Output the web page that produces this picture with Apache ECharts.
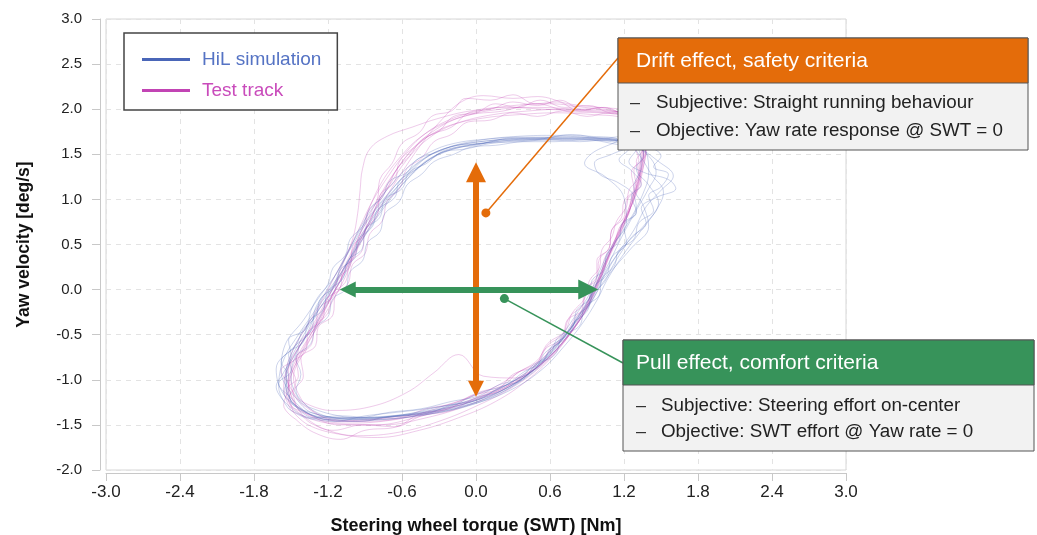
<!DOCTYPE html>
<html><head><meta charset="utf-8">
<script src="https://cdn.jsdelivr.net/npm/echarts@6/dist/echarts.min.js"></script>
<style>html,body{margin:0;padding:0;background:#fff}#c{width:1037px;height:535px}</style>
</head><body><div id="c"></div>
<script>
// ---- Data ----
const xTickLabels = ['-3.0','-2.4','-1.8','-1.2','-0.6','0.0','0.6','1.2','1.8','2.4','3.0'];
const yTickLabels = ['-2.0','-1.5','-1.0','-0.5','0.0','0.5','1.0','1.5','2.0','2.5','3.0'];

const hil1 = [[-1.48,-1.28],[-1.55,-1.02],[-1.50,-0.72],[-1.38,-0.42],[-1.22,-0.12],[-1.12,0.10],[-1.02,0.35],[-0.92,0.60],[-0.80,0.86],[-0.66,1.10],[-0.52,1.32],[-0.36,1.50],[-0.15,1.60],[0.10,1.65],[0.40,1.68],[0.70,1.68],[1.00,1.67],[1.25,1.64],[1.38,1.52],[1.40,1.30],[1.35,1.05],[1.25,0.78],[1.12,0.50],[1.02,0.22],[0.95,-0.02],[0.84,-0.28],[0.70,-0.55],[0.52,-0.82],[0.30,-1.05],[0.02,-1.22],[-0.30,-1.33],[-0.65,-1.40],[-1.00,-1.43],[-1.30,-1.40],[-1.48,-1.28]];
const hil2 = [[-1.42,-1.25],[-1.50,-0.98],[-1.44,-0.66],[-1.30,-0.38],[-1.18,-0.08],[-1.06,0.18],[-0.98,0.42],[-0.86,0.68],[-0.74,0.92],[-0.60,1.16],[-0.44,1.38],[-0.26,1.52],[-0.05,1.60],[0.25,1.64],[0.55,1.66],[0.85,1.66],[1.10,1.64],[1.30,1.58],[1.48,1.42],[1.60,1.26],[1.50,1.10],[1.38,0.92],[1.28,0.66],[1.15,0.40],[1.04,0.15],[0.96,-0.08],[0.82,-0.34],[0.66,-0.60],[0.46,-0.86],[0.22,-1.08],[-0.08,-1.24],[-0.42,-1.35],[-0.80,-1.41],[-1.15,-1.42],[-1.42,-1.25]];
const hil3 = [[-1.52,-1.32],[-1.60,-1.08],[-1.56,-0.78],[-1.44,-0.50],[-1.30,-0.22],[-1.20,0.02],[-1.10,0.26],[-1.00,0.52],[-0.88,0.78],[-0.74,1.02],[-0.58,1.26],[-0.42,1.45],[-0.22,1.58],[0.05,1.66],[0.35,1.70],[0.65,1.71],[0.92,1.70],[1.15,1.66],[0.95,1.52],[0.88,1.40],[1.05,1.25],[1.20,1.02],[1.22,0.75],[1.10,0.48],[1.00,0.20],[0.92,-0.05],[0.80,-0.30],[0.66,-0.58],[0.48,-0.86],[0.26,-1.10],[-0.04,-1.28],[-0.38,-1.38],[-0.74,-1.44],[-1.10,-1.46],[-1.38,-1.42],[-1.52,-1.32]];
const hil4 = [[-1.46,-1.20],[-1.58,-0.92],[-1.55,-0.62],[-1.40,-0.34],[-1.26,-0.06],[-1.14,0.16],[-1.04,0.40],[-0.95,0.66],[-0.84,0.90],[-0.70,1.14],[-0.55,1.36],[-0.38,1.52],[-0.18,1.62],[0.10,1.67],[0.40,1.69],[0.70,1.69],[1.00,1.68],[1.22,1.64],[1.34,1.46],[1.42,1.28],[1.52,1.08],[1.46,0.88],[1.32,0.62],[1.18,0.36],[1.06,0.10],[0.98,-0.12],[0.86,-0.38],[0.72,-0.62],[0.54,-0.88],[0.30,-1.10],[0.00,-1.26],[-0.34,-1.36],[-0.70,-1.41],[-1.05,-1.42],[-1.34,-1.36],[-1.46,-1.20]];
const hil5 = [[-1.50,-1.24],[-1.54,-0.96],[-1.46,-0.70],[-1.36,-0.46],[-1.28,-0.20],[-1.16,0.04],[-1.08,0.30],[-0.98,0.54],[-0.86,0.80],[-0.72,1.04],[-0.60,1.24],[-0.46,1.42],[-0.28,1.55],[-0.02,1.63],[0.30,1.67],[0.60,1.68],[0.90,1.68],[1.18,1.66],[1.32,1.55],[1.34,1.36],[1.28,1.14],[1.36,0.92],[1.40,0.70],[1.26,0.46],[1.12,0.24],[1.00,0.02],[0.90,-0.22],[0.76,-0.48],[0.60,-0.74],[0.40,-0.98],[0.14,-1.18],[-0.18,-1.31],[-0.55,-1.39],[-0.92,-1.43],[-1.25,-1.42],[-1.50,-1.24]];
const hil6 = [[-1.44,-1.32],[-1.54,-1.10],[-1.52,-0.84],[-1.42,-0.56],[-1.30,-0.28],[-1.18,-0.02],[-1.08,0.22],[-0.96,0.48],[-0.84,0.74],[-0.72,0.98],[-0.56,1.22],[-0.40,1.42],[-0.20,1.56],[0.08,1.63],[0.38,1.66],[0.68,1.67],[0.98,1.66],[1.24,1.62],[1.40,1.48],[1.46,1.30],[1.40,1.12],[1.30,0.88],[1.18,0.58],[1.08,0.30],[0.98,0.06],[0.88,-0.18],[0.76,-0.44],[0.60,-0.70],[0.42,-0.94],[0.18,-1.14],[-0.12,-1.30],[-0.48,-1.40],[-0.86,-1.44],[-1.20,-1.44],[-1.44,-1.32]];
const hil7 = [[-1.40,-1.34],[-1.56,-1.16],[-1.62,-0.88],[-1.48,-0.64],[-1.34,-0.46],[-1.30,-0.20],[-1.16,0.06],[-1.04,0.30],[-0.94,0.58],[-0.82,0.84],[-0.68,1.08],[-0.50,1.32],[-0.34,1.48],[-0.12,1.58],[0.16,1.64],[0.46,1.67],[0.76,1.67],[1.04,1.66],[1.28,1.62],[1.36,1.50],[1.30,1.34],[1.40,1.16],[1.48,0.96],[1.38,0.74],[1.20,0.48],[1.06,0.22],[0.97,-0.02],[0.86,-0.26],[0.72,-0.52],[0.56,-0.78],[0.34,-1.02],[0.06,-1.20],[-0.26,-1.32],[-0.62,-1.40],[-1.00,-1.44],[-1.40,-1.34]];
const hil8 = [[-1.46,-1.30],[-1.56,-1.14],[-1.52,-0.96],[-1.58,-0.80],[-1.46,-0.62],[-1.40,-0.44],[-1.30,-0.30],[-1.26,-0.10],[-1.14,0.04],[-1.10,0.22],[-0.98,0.36],[-0.96,0.54],[-0.84,0.70],[-0.80,0.88],[-0.66,1.02],[-0.62,1.20],[-0.48,1.34],[-0.36,1.46],[-0.22,1.56],[0.00,1.60],[0.20,1.66],[0.45,1.66],[0.70,1.70],[0.95,1.68],[1.18,1.64],[1.30,1.56],[1.24,1.42],[1.36,1.30],[1.56,1.22],[1.62,1.12],[1.46,1.02],[1.34,0.90],[1.38,0.74],[1.26,0.58],[1.18,0.42],[1.10,0.24],[1.04,0.08],[0.94,-0.06],[0.90,-0.24],[0.78,-0.38],[0.70,-0.56],[0.56,-0.70],[0.48,-0.88],[0.32,-1.00],[0.16,-1.12],[-0.06,-1.24],[-0.30,-1.30],[-0.56,-1.38],[-0.84,-1.42],[-1.10,-1.40],[-1.32,-1.42],[-1.46,-1.30]];
const hil9 = [[-1.38,-1.36],[-1.50,-1.20],[-1.60,-1.04],[-1.50,-0.90],[-1.52,-0.72],[-1.40,-0.58],[-1.36,-0.36],[-1.24,-0.22],[-1.20,-0.02],[-1.08,0.12],[-1.04,0.32],[-0.92,0.46],[-0.90,0.66],[-0.78,0.80],[-0.74,1.00],[-0.60,1.12],[-0.54,1.30],[-0.40,1.40],[-0.28,1.52],[-0.08,1.56],[0.12,1.62],[0.36,1.64],[0.60,1.66],[0.84,1.64],[1.06,1.66],[1.26,1.60],[1.10,1.50],[0.96,1.40],[1.00,1.28],[1.16,1.18],[1.28,1.04],[1.30,0.86],[1.20,0.70],[1.22,0.52],[1.10,0.36],[1.06,0.16],[0.96,0.04],[0.92,-0.16],[0.82,-0.30],[0.76,-0.48],[0.62,-0.62],[0.54,-0.80],[0.38,-0.92],[0.24,-1.06],[0.04,-1.14],[-0.16,-1.26],[-0.40,-1.32],[-0.64,-1.36],[-0.90,-1.40],[-1.14,-1.46],[-1.38,-1.36]];
const hil10 = [[-1.54,-1.26],[-1.62,-1.08],[-1.56,-0.92],[-1.50,-0.74],[-1.52,-0.56],[-1.38,-0.44],[-1.34,-0.24],[-1.28,-0.08],[-1.20,0.06],[-1.16,0.24],[-1.06,0.38],[-1.02,0.56],[-0.92,0.70],[-0.86,0.90],[-0.76,1.02],[-0.70,1.20],[-0.56,1.30],[-0.48,1.44],[-0.32,1.52],[-0.16,1.60],[0.06,1.62],[0.28,1.68],[0.52,1.68],[0.78,1.72],[1.02,1.68],[1.22,1.70],[1.38,1.60],[1.50,1.48],[1.44,1.36],[1.56,1.28],[1.50,1.14],[1.40,1.04],[1.44,0.88],[1.32,0.74],[1.28,0.56],[1.16,0.44],[1.12,0.26],[1.02,0.12],[1.00,-0.06],[0.88,-0.20],[0.84,-0.40],[0.70,-0.52],[0.64,-0.72],[0.48,-0.84],[0.38,-1.00],[0.20,-1.08],[0.02,-1.22],[-0.20,-1.28],[-0.42,-1.38],[-0.68,-1.40],[-0.94,-1.46],[-1.20,-1.44],[-1.40,-1.40],[-1.54,-1.26]];
const hil11 = [[-1.36,-1.30],[-1.46,-1.12],[-1.42,-0.94],[-1.46,-0.76],[-1.34,-0.60],[-1.30,-0.42],[-1.20,-0.30],[-1.16,-0.10],[-1.06,0.00],[-1.02,0.20],[-0.92,0.32],[-0.88,0.52],[-0.78,0.64],[-0.74,0.84],[-0.62,0.98],[-0.56,1.16],[-0.44,1.28],[-0.34,1.42],[-0.18,1.50],[-0.04,1.58],[0.16,1.60],[0.40,1.64],[0.64,1.64],[0.88,1.66],[1.10,1.62],[1.24,1.56],[1.16,1.44],[1.26,1.32],[1.34,1.16],[1.26,1.04],[1.30,0.86],[1.18,0.72],[1.16,0.54],[1.06,0.40],[1.04,0.22],[0.94,0.10],[0.92,-0.10],[0.82,-0.22],[0.78,-0.42],[0.66,-0.54],[0.60,-0.72],[0.46,-0.84],[0.36,-0.98],[0.18,-1.06],[0.02,-1.18],[-0.20,-1.24],[-0.44,-1.32],[-0.70,-1.36],[-0.96,-1.42],[-1.18,-1.38],[-1.36,-1.30]];

const track1 = [[-1.45,-1.30],[-1.52,-1.05],[-1.45,-0.75],[-1.32,-0.45],[-1.20,-0.15],[-1.10,0.10],[-1.00,0.38],[-0.90,0.65],[-0.80,0.95],[-0.68,1.25],[-0.52,1.55],[-0.32,1.78],[-0.10,1.92],[0.20,2.00],[0.50,2.02],[0.80,2.00],[1.10,1.98],[1.30,1.92],[1.36,1.70],[1.34,1.40],[1.30,1.10],[1.22,0.80],[1.12,0.50],[1.03,0.22],[0.97,0.00],[0.88,-0.25],[0.74,-0.52],[0.55,-0.80],[0.30,-1.02],[0.00,-1.20],[-0.35,-1.35],[-0.70,-1.45],[-1.05,-1.48],[-1.32,-1.42],[-1.45,-1.30]];
const track2 = [[-1.40,-1.25],[-1.48,-0.98],[-1.40,-0.70],[-1.28,-0.40],[-1.16,-0.12],[-1.06,0.14],[-0.98,0.40],[-0.86,0.70],[-0.74,1.00],[-0.60,1.30],[-0.45,1.60],[-0.28,1.88],[-0.12,2.08],[0.06,2.15],[0.30,2.12],[0.50,2.14],[0.75,2.06],[1.00,2.02],[1.22,1.98],[1.34,1.82],[1.36,1.55],[1.32,1.25],[1.26,0.95],[1.18,0.65],[1.08,0.36],[1.00,0.08],[0.92,-0.16],[0.80,-0.42],[0.64,-0.68],[0.44,-0.92],[0.18,-1.12],[-0.14,-1.28],[-0.50,-1.40],[-0.88,-1.46],[-1.22,-1.42],[-1.40,-1.25]];
const track3 = [[-1.50,-1.34],[-1.56,-1.08],[-1.50,-0.80],[-1.38,-0.52],[-1.26,-0.24],[-1.16,0.02],[-1.08,0.28],[-1.00,0.56],[-0.96,0.84],[-0.94,1.10],[-0.92,1.34],[-0.86,1.56],[-0.72,1.70],[-0.52,1.80],[-0.30,1.90],[-0.05,1.98],[0.25,2.02],[0.55,2.00],[0.85,1.98],[1.10,1.95],[1.30,1.88],[1.38,1.66],[1.36,1.38],[1.30,1.06],[1.20,0.76],[1.10,0.46],[1.02,0.18],[0.94,-0.06],[0.84,-0.32],[0.70,-0.60],[0.50,-0.86],[0.24,-1.08],[-0.08,-1.26],[-0.44,-1.40],[-0.82,-1.50],[-1.20,-1.48],[-1.50,-1.34]];
const track4 = [[-1.48,-1.36],[-1.52,-1.10],[-1.46,-0.82],[-1.34,-0.50],[-1.22,-0.20],[-1.12,0.06],[-1.02,0.32],[-0.92,0.60],[-0.82,0.88],[-0.70,1.16],[-0.56,1.44],[-0.40,1.66],[-0.20,1.82],[0.05,1.90],[0.35,1.94],[0.65,1.96],[0.95,1.94],[1.20,1.90],[1.32,1.76],[1.34,1.50],[1.30,1.20],[1.24,0.90],[1.14,0.60],[1.06,0.32],[0.98,0.06],[0.90,-0.20],[0.78,-0.46],[0.62,-0.74],[0.42,-1.00],[0.16,-1.24],[-0.14,-1.42],[-0.46,-1.56],[-0.80,-1.64],[-1.12,-1.60],[-1.36,-1.50],[-1.48,-1.36]];
const track5 = [[-1.44,-1.22],[-1.54,-0.94],[-1.48,-0.66],[-1.36,-0.38],[-1.24,-0.10],[-1.14,0.16],[-1.04,0.42],[-0.94,0.70],[-0.84,0.98],[-0.72,1.24],[-0.58,1.50],[-0.42,1.72],[-0.22,1.88],[0.02,1.98],[0.30,2.04],[0.60,2.06],[0.88,2.02],[1.12,1.98],[1.30,1.90],[1.38,1.70],[1.36,1.44],[1.30,1.14],[1.22,0.84],[1.14,0.56],[1.04,0.28],[0.96,0.02],[0.86,-0.24],[0.72,-0.50],[0.54,-0.76],[0.32,-0.98],[0.06,-0.96],[-0.14,-0.72],[-0.34,-0.92],[-0.56,-1.14],[-0.86,-1.30],[-1.18,-1.34],[-1.44,-1.22]];
const track6 = [[-1.46,-1.28],[-1.50,-1.00],[-1.42,-0.72],[-1.30,-0.44],[-1.20,-0.16],[-1.10,0.10],[-1.02,0.36],[-0.94,0.62],[-0.86,0.92],[-0.76,1.20],[-0.62,1.46],[-0.46,1.68],[-0.26,1.84],[-0.04,1.94],[0.22,1.98],[0.48,2.06],[0.74,1.98],[1.00,1.96],[1.24,1.94],[1.36,1.80],[1.38,1.56],[1.34,1.28],[1.28,1.00],[1.18,0.70],[1.08,0.42],[1.00,0.14],[0.92,-0.10],[0.82,-0.36],[0.68,-0.62],[0.48,-0.88],[0.24,-1.10],[-0.06,-1.28],[-0.40,-1.42],[-0.76,-1.50],[-1.12,-1.50],[-1.46,-1.28]];
const track7 = [[-1.40,-1.40],[-1.50,-1.18],[-1.52,-0.90],[-1.42,-0.60],[-1.28,-0.32],[-1.18,-0.04],[-1.08,0.22],[-0.98,0.50],[-0.88,0.78],[-0.78,1.04],[-0.66,1.30],[-0.52,1.54],[-0.34,1.74],[-0.12,1.86],[0.14,1.94],[0.42,1.98],[0.70,2.00],[0.98,1.98],[1.22,1.96],[1.34,1.84],[1.36,1.60],[1.34,1.32],[1.28,1.02],[1.20,0.72],[1.10,0.44],[1.02,0.16],[0.94,-0.08],[0.84,-0.34],[0.70,-0.60],[0.52,-0.86],[0.30,-1.08],[0.02,-1.28],[-0.30,-1.46],[-0.62,-1.58],[-0.96,-1.62],[-1.24,-1.54],[-1.40,-1.40]];
const track8 = [[-1.42,-1.38],[-1.52,-1.22],[-1.46,-1.02],[-1.50,-0.84],[-1.38,-0.68],[-1.36,-0.48],[-1.24,-0.32],[-1.22,-0.12],[-1.10,0.02],[-1.08,0.22],[-0.98,0.38],[-0.94,0.58],[-0.86,0.74],[-0.80,0.96],[-0.72,1.12],[-0.64,1.34],[-0.54,1.48],[-0.44,1.66],[-0.30,1.76],[-0.18,1.92],[0.00,1.96],[0.16,2.06],[0.34,2.02],[0.52,2.10],[0.72,2.02],[0.92,2.04],[1.10,1.96],[1.26,1.98],[1.36,1.86],[1.34,1.70],[1.38,1.52],[1.32,1.36],[1.34,1.18],[1.26,1.02],[1.24,0.84],[1.16,0.68],[1.12,0.50],[1.04,0.34],[1.02,0.16],[0.94,0.02],[0.90,-0.18],[0.80,-0.32],[0.74,-0.52],[0.60,-0.66],[0.52,-0.84],[0.36,-0.96],[0.20,-1.12],[0.00,-1.20],[-0.20,-1.34],[-0.44,-1.40],[-0.66,-1.52],[-0.92,-1.50],[-1.16,-1.56],[-1.34,-1.48],[-1.42,-1.38]];
const track9 = [[-1.50,-1.30],[-1.54,-1.12],[-1.44,-0.96],[-1.46,-0.76],[-1.34,-0.62],[-1.30,-0.40],[-1.20,-0.26],[-1.16,-0.04],[-1.06,0.08],[-1.02,0.30],[-0.92,0.44],[-0.90,0.66],[-0.80,0.82],[-0.78,1.04],[-0.66,1.20],[-0.62,1.42],[-0.50,1.58],[-0.36,1.72],[-0.20,1.80],[-0.06,1.96],[0.12,2.00],[0.30,2.08],[0.50,2.04],[0.68,2.10],[0.86,2.00],[1.04,2.02],[1.20,1.94],[1.32,1.90],[1.30,1.74],[1.36,1.58],[1.30,1.42],[1.32,1.26],[1.24,1.10],[1.22,0.92],[1.14,0.76],[1.10,0.58],[1.02,0.44],[1.00,0.24],[0.92,0.10],[0.88,-0.10],[0.78,-0.26],[0.72,-0.46],[0.58,-0.60],[0.50,-0.78],[0.34,-0.92],[0.18,-1.06],[-0.02,-1.18],[-0.24,-1.28],[-0.48,-1.38],[-0.72,-1.42],[-0.98,-1.46],[-1.22,-1.44],[-1.50,-1.30]];
const track10 = [[-1.46,-1.44],[-1.56,-1.28],[-1.52,-1.08],[-1.58,-0.90],[-1.46,-0.76],[-1.42,-0.56],[-1.30,-0.42],[-1.28,-0.22],[-1.16,-0.08],[-1.12,0.12],[-1.02,0.26],[-1.00,0.48],[-0.90,0.62],[-0.88,0.84],[-0.80,1.00],[-0.78,1.22],[-0.68,1.40],[-0.60,1.62],[-0.46,1.74],[-0.36,1.92],[-0.20,1.98],[-0.08,2.12],[0.12,2.10],[0.30,2.16],[0.48,2.06],[0.66,2.08],[0.84,1.98],[1.02,2.02],[1.20,1.96],[1.34,1.96],[1.38,1.82],[1.32,1.66],[1.36,1.48],[1.28,1.32],[1.30,1.14],[1.22,0.98],[1.20,0.80],[1.10,0.66],[1.08,0.46],[0.98,0.32],[0.98,0.12],[0.88,0.00],[0.86,-0.22],[0.74,-0.34],[0.70,-0.54],[0.56,-0.66],[0.48,-0.84],[0.30,-0.94],[0.18,-1.10],[-0.04,-1.18],[-0.22,-1.32],[-0.46,-1.38],[-0.64,-1.52],[-0.90,-1.56],[-1.10,-1.66],[-1.32,-1.58],[-1.46,-1.44]];
const track11 = [[-1.38,-1.30],[-1.48,-1.14],[-1.40,-0.96],[-1.42,-0.76],[-1.30,-0.62],[-1.28,-0.42],[-1.16,-0.28],[-1.14,-0.06],[-1.04,0.06],[-1.00,0.28],[-0.90,0.40],[-0.86,0.62],[-0.76,0.76],[-0.72,0.98],[-0.62,1.12],[-0.56,1.34],[-0.44,1.46],[-0.34,1.64],[-0.20,1.72],[-0.06,1.86],[0.12,1.88],[0.30,1.96],[0.50,1.92],[0.70,1.98],[0.90,1.92],[1.08,1.96],[1.24,1.90],[1.32,1.78],[1.28,1.62],[1.32,1.44],[1.26,1.30],[1.28,1.12],[1.20,0.98],[1.18,0.80],[1.10,0.66],[1.08,0.46],[1.00,0.34],[0.98,0.14],[0.90,0.02],[0.86,-0.18],[0.76,-0.30],[0.70,-0.50],[0.58,-0.62],[0.50,-0.80],[0.34,-0.92],[0.22,-1.06],[0.02,-1.14],[-0.18,-1.26],[-0.40,-1.32],[-0.62,-1.42],[-0.88,-1.44],[-1.12,-1.46],[-1.38,-1.30]];

// annotation geometry in data units
const driftArrow = [[0, -1.10], [0, 1.30]];
const pullArrow = [[-1.04, 0], [0.91, 0]];
const driftDot = [0.08, 0.85];
const pullDot = [0.23, -0.10];

const hilRuns = [hil1, hil2, hil3, hil4, hil5, hil6, hil7, hil8, hil9, hil10, hil11];
const trackRuns = [track1, track2, track3, track4, track5, track6, track7, track8, track9, track10, track11];

const BLUE = '#4a66b8', MAG = '#c244b4', ORANGE = '#e46c0a', GREEN = '#37935a';
const chart = echarts.init(document.getElementById('c'), null, {renderer: 'canvas'});

const series = [];
trackRuns.forEach(d => series.push({name: 'Test track', type: 'line', data: d, smooth: 0.4, showSymbol: false, symbol: 'none',
  lineStyle: {color: MAG, width: 0.7, opacity: 0.4}, itemStyle: {color: MAG}, z: 2, silent: true}));
hilRuns.forEach(d => series.push({name: 'HiL simulation', type: 'line', data: d, smooth: 0.4, showSymbol: false, symbol: 'none',
  lineStyle: {color: BLUE, width: 0.7, opacity: 0.4}, itemStyle: {color: BLUE}, z: 2, silent: true}));
series.push({type: 'lines', coordinateSystem: 'cartesian2d', z: 5, silent: true,
  symbol: ['triangle', 'triangle'], symbolSize: [16, 20],
  data: [{coords: driftArrow, lineStyle: {color: ORANGE}}, {coords: pullArrow, lineStyle: {color: GREEN}}],
  lineStyle: {width: 6, opacity: 1}});

const fontReg = '"Liberation Sans", Arial, sans-serif';

chart.setOption({
  animation: false,
  grid: {left: 106, right: 191, top: 19, bottom: 65, show: true, borderColor: '#d6d6d6', borderWidth: 1,
    containLabel: false, outerBoundsMode: 'none'},
  legend: {
    left: 124, top: 33, orient: 'vertical', padding: [17, 16, 10, 18], itemGap: 12,
    itemWidth: 48, itemHeight: 3, icon: 'rect', backgroundColor: '#fff', borderColor: '#444', borderWidth: 1.5,
    textStyle: {fontSize: 19, fontFamily: fontReg, padding: [0, 0, 0, 7]},
    data: [
      {name: 'HiL simulation', itemStyle: {color: BLUE, opacity: 1}, textStyle: {color: '#5573c4'}},
      {name: 'Test track', itemStyle: {color: MAG, opacity: 1}, textStyle: {color: '#c94bbb'}}
    ]
  },
  xAxis: {
    type: 'value', min: -3, max: 3, interval: 0.6, offset: 3,
    axisLine: {show: true, onZero: false, lineStyle: {color: '#c8c8c8'}},
    axisTick: {show: true, length: 8, lineStyle: {color: '#c8c8c8'}},
    axisLabel: {fontSize: 17, color: '#222', margin: 11, fontFamily: fontReg,
      formatter: (v, i) => xTickLabels[i]},
    splitLine: {show: true, lineStyle: {type: [5, 5], color: '#e3e3e3'}},
    name: 'Steering wheel torque (SWT) [Nm]', nameLocation: 'middle', nameGap: 44,
    nameTextStyle: {fontWeight: 'bold', fontSize: 18, fontFamily: fontReg, color: '#111'}
  },
  yAxis: {
    type: 'value', min: -2, max: 3, interval: 0.5, offset: 6,
    axisLine: {show: true, onZero: false, lineStyle: {color: '#c8c8c8'}},
    axisTick: {show: true, length: 8, lineStyle: {color: '#c8c8c8'}},
    axisLabel: {fontSize: 15, color: '#222', margin: 18, fontFamily: fontReg,
      formatter: (v, i) => yTickLabels[i]},
    splitLine: {show: true, lineStyle: {type: [5, 5], color: '#e3e3e3'}},
    name: 'Yaw velocity [deg/s]', nameLocation: 'middle', nameGap: 67,
    nameTextStyle: {fontWeight: 'bold', fontSize: 17.5, fontFamily: fontReg, color: '#111'}
  },
  series: series
});

// annotation boxes & connectors
const dd = chart.convertToPixel({gridIndex: 0}, driftDot);
const pd = chart.convertToPixel({gridIndex: 0}, pullDot);
function box(x, y, w, hh, bh, color, title, lines, hx, dx, ly1, ly2) {
  return [
    {type: 'rect', shape: {x: x, y: y, width: w, height: hh + bh}, style: {fill: '#f2f2f2', stroke: '#555', lineWidth: 1}, z: 100},
    {type: 'rect', shape: {x: x, y: y, width: w, height: hh}, style: {fill: color, stroke: '#555', lineWidth: 1}, z: 101},
    {type: 'text', x: x + hx, y: y + hh / 2 + 1, style: {text: title, fill: '#fff', font: '21px ' + fontReg, textVerticalAlign: 'middle'}, z: 102},
    {type: 'text', x: x + dx, y: y + hh + ly1, style: {text: '–', fill: '#333', font: '18px ' + fontReg, textVerticalAlign: 'middle'}, z: 102},
    {type: 'text', x: x + 38, y: y + hh + ly1, style: {text: lines[0], fill: '#222', font: '18.8px ' + fontReg, textVerticalAlign: 'middle'}, z: 102},
    {type: 'text', x: x + dx, y: y + hh + ly2, style: {text: '–', fill: '#333', font: '18px ' + fontReg, textVerticalAlign: 'middle'}, z: 102},
    {type: 'text', x: x + 38, y: y + hh + ly2, style: {text: lines[1], fill: '#222', font: '18.8px ' + fontReg, textVerticalAlign: 'middle'}, z: 102}
  ];
}
const g = [];
g.push({type: 'line', shape: {x1: dd[0], y1: dd[1], x2: 618, y2: 58}, style: {stroke: ORANGE, lineWidth: 1.5}, z: 50});
g.push({type: 'circle', shape: {cx: dd[0], cy: dd[1], r: 4.5}, style: {fill: ORANGE}, z: 51});
g.push({type: 'line', shape: {x1: pd[0], y1: pd[1], x2: 623, y2: 363}, style: {stroke: GREEN, lineWidth: 1.5}, z: 50});
g.push({type: 'circle', shape: {cx: pd[0], cy: pd[1], r: 4.5}, style: {fill: GREEN}, z: 51});
box(618, 38, 410, 45, 67, ORANGE, 'Drift effect, safety criteria',
  ['Subjective: Straight running behaviour', 'Objective: Yaw rate response @ SWT = 0'], 18, 12, 20, 48).forEach(e => g.push(e));
box(623, 340, 411, 45, 66, GREEN, 'Pull effect, comfort criteria',
  ['Subjective: Steering effort on-center', 'Objective: SWT effort @ Yaw rate = 0'], 13, 13, 21, 47).forEach(e => g.push(e));
chart.setOption({graphic: g});
</script></body></html>
